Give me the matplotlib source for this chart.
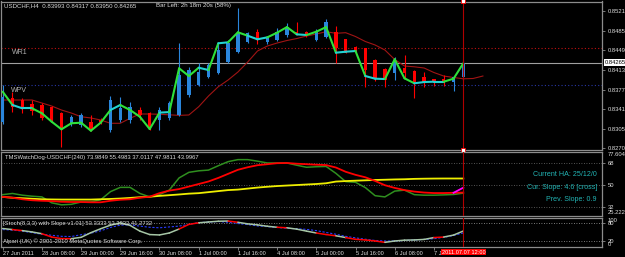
import matplotlib
matplotlib.use("Agg")
import matplotlib.pyplot as plt
import numpy as np
from matplotlib import font_manager
from matplotlib.transforms import blended_transform_factory

W, H = 625, 257

# ---- USDCHF H4 price pane ----
opens = [0.83178, 0.83618, 0.83581, 0.83508, 0.83490, 0.83458, 0.83349, 0.83142, 0.83124, 0.83184,
         0.83215, 0.83032, 0.83215, 0.83215, 0.83398, 0.83343, 0.83215, 0.83252, 0.83307, 0.83673,
         0.83856, 0.84007, 0.84075, 0.84282, 0.84465, 0.84648, 0.84831, 0.84648, 0.84679, 0.84771,
         0.84831, 0.84831, 0.84679, 0.84739, 0.84831, 0.84692, 0.84556, 0.84527, 0.84320, 0.84155,
         0.84070, 0.84167, 0.84117, 0.84007, 0.83960, 0.83965, 0.83910, 0.83993]
highs = [0.83856, 0.83733, 0.83612, 0.83581, 0.83526, 0.83471, 0.83367, 0.83307, 0.83343, 0.83307,
         0.83252, 0.83654, 0.83641, 0.83550, 0.83458, 0.83367, 0.83453, 0.83563, 0.84624, 0.84190,
         0.84258, 0.84258, 0.84630, 0.84679, 0.85259, 0.84831, 0.84875, 0.84752, 0.84899, 0.84985,
         0.85014, 0.84853, 0.84880, 0.85058, 0.84935, 0.84700, 0.84569, 0.84535, 0.84326, 0.84161,
         0.84362, 0.84405, 0.84125, 0.84099, 0.83965, 0.84033, 0.84020, 0.84317]
lows = [0.83142, 0.83367, 0.83343, 0.83307, 0.83215, 0.83184, 0.82715, 0.83105, 0.83087, 0.83019,
        0.83142, 0.82995, 0.83184, 0.83155, 0.83215, 0.83032, 0.83032, 0.83215, 0.83288, 0.83641,
        0.83837, 0.83984, 0.84057, 0.84258, 0.84436, 0.84619, 0.84606, 0.84606, 0.84666, 0.84739,
        0.84771, 0.84739, 0.84666, 0.84710, 0.84264, 0.84441, 0.84459, 0.83824, 0.83934, 0.83813,
        0.83947, 0.83984, 0.83612, 0.83813, 0.83837, 0.83837, 0.83751, 0.83950]
closes = [0.83636, 0.83453, 0.83435, 0.83380, 0.83252, 0.83215, 0.83063, 0.83270, 0.83307, 0.83045,
          0.83178, 0.83581, 0.83435, 0.83458, 0.83307, 0.83069, 0.83398, 0.83526, 0.84039, 0.84130,
          0.84099, 0.84222, 0.84496, 0.84624, 0.84807, 0.84807, 0.84692, 0.84739, 0.84831, 0.84922,
          0.84789, 0.84771, 0.84831, 0.85014, 0.84527, 0.84447, 0.84465, 0.84130, 0.83960, 0.83947,
          0.84313, 0.84075, 0.83916, 0.83887, 0.83910, 0.83910, 0.84002, 0.84265]
trend_line = [0.83733, 0.83490, 0.83429, 0.83429, 0.83338, 0.83184, 0.83045, 0.83155, 0.83166, 0.83019,
              0.83166, 0.83398, 0.83490, 0.83398, 0.83275, 0.83050, 0.83350, 0.83360, 0.84161, 0.84020,
              0.84172, 0.84130, 0.84619, 0.84637, 0.84820, 0.84758, 0.84692, 0.84728, 0.84813, 0.84915,
              0.84783, 0.84771, 0.84831, 0.84915, 0.84447, 0.84465, 0.84478, 0.84020, 0.83971, 0.83965,
              0.84326, 0.83978, 0.83887, 0.83910, 0.83916, 0.83916, 0.83971, 0.84253]
trend_cyan = [1, 2, 11, 16, 20, 22, 25, 26, 30, 34, 35, 37, 38, 42, 43, 44]
ma_line = [0.83581, 0.83581, 0.83581, 0.83581, 0.83526, 0.83471, 0.83398, 0.83343, 0.83275, 0.83252,
           0.83215, 0.83155, 0.83155, 0.83246, 0.83325, 0.83325, 0.83320, 0.83310, 0.83300, 0.83307,
           0.83458, 0.83654, 0.83824, 0.83947, 0.84093, 0.84276, 0.84478, 0.84569, 0.84624, 0.84670,
           0.84706, 0.84752, 0.84789, 0.84831, 0.84802, 0.84813, 0.84743, 0.84652, 0.84588, 0.84496,
           0.84322, 0.84203, 0.84189, 0.84167, 0.84084, 0.84020, 0.83993, 0.83969, 0.83975, 0.84020]
wr1_level = 0.84527
wpv_level = 0.83850
bid = 0.84265
price_ticks = [0.85210, 0.84850, 0.84490, 0.84130, 0.83770, 0.83410, 0.83050, 0.82700]

# ---- TMSWatchDog pane ----
wd_green = [42.27, 43.26, 41.85, 41.02, 40.44, 35.61, 33.95, 34.37, 36.28, 36.28,
            38.11, 44.76, 48.25, 48.25, 43.26, 40.44, 42.27, 46.01, 55.98, 60.56,
            61.80, 62.39, 65.96, 69.29, 70.95, 70.95, 69.70, 68.21, 68.21, 68.21,
            66.38, 64.71, 65.13, 65.38, 59.72, 52.91, 52.41, 48.09, 41.43, 40.44,
            45.18, 46.01, 42.27, 41.85, 41.85, 42.10, 42.43, 43.50]
wd_red = [40.44, 39.77, 38.52, 37.69, 37.28, 37.03, 36.45, 36.28, 36.28, 36.03,
          36.03, 37.28, 38.11, 38.52, 39.77, 40.60, 43.51, 45.59, 46.84, 48.92,
          51.00, 53.07, 55.98, 59.31, 62.63, 64.71, 66.38, 67.21, 68.04, 68.21,
          67.62, 67.21, 66.79, 66.50, 64.50, 61.00, 58.50, 56.50, 53.50, 50.00,
          47.80, 46.00, 44.80, 44.00, 43.60, 43.60, 43.80, 43.9967]
wd_yellow = [40.44, 39.77, 39.36, 38.94, 38.52, 38.36, 38.27, 38.27, 38.27, 38.27,
             38.52, 38.77, 39.11, 39.61, 40.19, 40.60, 41.27, 41.85, 42.43, 43.10,
             43.51, 44.34, 45.18, 46.01, 46.42, 47.25, 48.09, 48.75, 49.33, 49.75,
             50.16, 50.58, 51.00, 51.60, 53.00, 53.40, 53.70, 54.00, 54.30, 54.50,
             54.74, 54.90, 55.20, 55.35, 55.45, 55.50, 55.50, 55.4983]
wd_magenta = [43.80, 47.9811]   # last two bars
wd_levels = [68, 50, 32]
wd_range = (25.2227, 77.6046)

# ---- Stochastic pane ----
st_main = [62.0, 58.4, 54.8, 50.2, 44.1, 32.6, 27.2, 26.9, 31.5, 47.7,
           61.3, 73.5, 81.4, 72.8, 53.0, 41.2, 39.8, 46.6, 60.2, 76.3,
           81.7, 84.6, 87.1, 87.8, 83.5, 78.1, 74.6, 69.9, 66.3, 64.5,
           59.9, 53.0, 46.6, 41.2, 36.9, 30.8, 24.7, 22.6, 19.0, 14.3,
           19.0, 21.9, 22.6, 24.4, 30.8, 32.6, 39.4, 53.3333]
st_signal = [58.4, 56.6, 53.0, 47.7, 42.3, 38.7, 35.1, 34.4, 40.5, 45.9,
             54.1, 65.6, 73.8, 74.6, 70.3, 66.3, 64.5, 67.4, 70.3, 76.3,
             82.4, 84.2, 86.0, 83.5, 79.2, 75.6, 71.0, 68.5, 65.6, 62.7,
             61.3, 59.1, 54.8, 48.4, 42.3, 35.1, 29.8, 25.1, 20.8, 19.0,
             19.0, 20.8, 22.6, 24.4, 26.9, 31.5, 38.0, 46.6]
st_red = [1, 4, 5, 6, 18, 19, 23, 28, 32, 33, 35, 36, 37, 38, 44]
st_levels = [80, 20]

time_labels = ["27 Jun 2011", "28 Jun 08:00", "29 Jun 00:00", "29 Jun 16:00", "30 Jun 08:00",
               "1 Jul 00:00", "1 Jul 16:00", "4 Jul 08:00", "5 Jul 00:00", "5 Jul 16:00",
               "6 Jul 08:00", "7 Jul 00:00"]
cursor_label = "2011.07.07 12:00"

# ---- style ----
names = {f.name for f in font_manager.fontManager.ttflist}
if "Liberation Sans Narrow" in names:
    FONT, K = "Liberation Sans Narrow", 1.0
else:
    FONT, K = "Liberation Sans", 0.82
plt.rcParams["font.family"] = [FONT, "DejaVu Sans"]
FS = 5.2 * K
FRAME = "#8c8c8c"
TXT = "#dcdcdc"
BLUE = "#2a86dc"
RED = "#ff0000"
GREEN = "#2ee03a"
CYAN = "#22d2d2"
TEAL = "#22b4b4"
X_LEFT, X_RIGHT = -0.17, 61.15

fig = plt.figure(figsize=(W / 100, H / 100), dpi=100, facecolor="black")


def pane(y0, y1):
    ax = fig.add_axes([1 / W, 1 - y1 / H, 601 / W, (y1 - y0) / H], facecolor="black")
    for s in ax.spines.values():
        s.set_color(FRAME)
        s.set_linewidth(0.9)
    ax.set_xlim(X_LEFT, X_RIGHT)
    ax.yaxis.tick_right()
    ax.tick_params(axis="y", colors=FRAME, labelcolor=TXT, length=2.5, width=0.6,
                   labelsize=FS, pad=1.5)
    ax.tick_params(axis="x", bottom=False, labelbottom=False)
    return ax


def px_text(x, y, s, **kw):
    kw.setdefault("fontsize", FS)
    kw.setdefault("color", TXT)
    kw.setdefault("va", "center")
    fig.text(x / W, 1 - y / H, s, **kw)


bars = np.arange(len(closes))
o = np.array(opens)
c = np.array(closes)

# main pane
ax = pane(1.5, 150)
ax.set_ylim(0.82666, 0.85384)
ax.set_yticks(price_ticks)
ax.set_yticklabels([f"{p:.5f}" for p in price_ticks])
ax.axhline(wr1_level, color="#c01010", lw=0.8, ls=(0, (1, 2)), zorder=1)
ax.axhline(wpv_level, color="#2838a8", lw=0.8, ls=(0, (1, 2)), zorder=1)
ax.axhline(bid, color="#a0a0a0", lw=0.8, zorder=1)
ax.plot(np.arange(len(ma_line)), ma_line, color="#a01414", lw=0.8, zorder=2)
cols = [BLUE if cc >= oo else RED for oo, cc in zip(o, c)]
ax.vlines(bars, lows, highs, colors=cols, lw=0.8, zorder=3)
ax.bar(bars, np.maximum(np.abs(c - o), 0.00012), bottom=np.minimum(o, c),
       width=0.36, color=cols, lw=0, zorder=3)
for k in range(len(trend_line) - 1):
    ax.plot([k, k + 1], trend_line[k:k + 2], color=CYAN if k in trend_cyan else GREEN,
            lw=1.5, solid_capstyle="round", zorder=4)
ax.axvline(bars[-1], color="#b00000", lw=0.8, zorder=5)
ax.plot([bars[-1]] * 2, ax.get_ylim(), "s", ms=2.6, mfc="white", mec=RED, mew=0.6,
        clip_on=False, zorder=6)
trans = blended_transform_factory(ax.transAxes, ax.transData)
ax.text(1.0045, bid, f"{bid:.5f}", transform=trans, ha="left", va="center", fontsize=FS,
        color="black", bbox=dict(boxstyle="square,pad=0.12", fc="white", ec="none"), clip_on=False)
px_text(4, 6, "USDCHF,H4  0.83993 0.84317 0.83950 0.84265", fontsize=5.4 * K)
px_text(156, 6, "Bar Left: 2h 18m 20s (58%)", fontsize=5.4 * K)
px_text(12, 53, "WR1", fontsize=6.2 * K, color="#b4b4b4")
px_text(11, 90, "WPV", fontsize=6.2 * K, color="#b4b4b4")

# TMSWatchDog pane
ax1 = pane(151.5, 215.5)
ax1.set_ylim(*wd_range)
ax1.set_yticks(wd_levels)
ax1.set_yticklabels([str(v) for v in wd_levels])
for lv in wd_levels:
    ax1.axhline(lv, color="#6e6e6e", lw=0.6, ls=(0, (1, 2)), zorder=1)
ax1.plot(bars, wd_green, color="#2f8f1f", lw=1.1, zorder=2)
ax1.plot(bars, wd_yellow, color="#eeee00", lw=1.3, zorder=3)
ax1.plot(bars, wd_red, color=RED, lw=1.3, zorder=4)
ax1.plot(bars[-2:], wd_magenta, color="#ff00ff", lw=1.3, zorder=5)
ax1.axvline(bars[-1], color="#b00000", lw=0.8, zorder=6)
px_text(607.5, 152.5, f"{wd_range[1]:.4f}", va="top")
px_text(607.5, 215, f"{wd_range[0]:.4f}", va="bottom")
px_text(5, 158, "TMSWatchDog-USDCHF(240) 73.9849 55.4983 37.0117 47.9811 43.9967")
px_text(597, 175, "Current HA: 25/12/0", ha="right", fontsize=6.3 * K, color=TEAL)
px_text(597, 187.7, "Cur. Slope: 4.6 [cross]", ha="right", fontsize=6.3 * K, color=TEAL)
px_text(597, 199.3, "Prev. Slope: 0.9", ha="right", fontsize=6.3 * K, color=TEAL)

# Stochastic pane
ax2 = pane(217.5, 246.5)
ax2.set_ylim(0, 100)
ax2.set_yticks(st_levels)
ax2.set_yticklabels([str(v) for v in st_levels])
for lv in st_levels:
    ax2.axhline(lv, color="#a0a0a0", lw=0.6, ls=(0, (1, 2)), zorder=1)
ax2.plot(bars, st_signal, color="#2a3cff", lw=0.8, ls=(0, (2, 1.5)), zorder=2)
for k in range(len(st_main) - 1):
    ax2.plot([k, k + 1], st_main[k:k + 2], color=RED if k in st_red else "#a6c6a6",
             lw=1.1, solid_capstyle="round", zorder=3)
ax2.axvline(bars[-1], color="#b00000", lw=0.8, zorder=4)
px_text(607.5, 218, "100", va="top")
px_text(607.5, 246.5, "0", va="bottom")
px_text(3, 224, "[Stoch(8,3,3) with Slope v1.01] 53.3333 53.3333 41.2732")
px_text(3, 241.5, "Alpari (UK) \u00a9 2001-2010 MetaQuotes Software Corp.")

ax2.set_xticks(bars[::4])
ax2.set_xticklabels(time_labels, ha="left")
ax2.tick_params(axis="x", bottom=True, labelbottom=True, length=2.5, width=0.6, pad=1,
                colors=FRAME, labelcolor=TXT, labelsize=5.0 * K)
ax2.text(bars[-1], -0.19, cursor_label, transform=blended_transform_factory(ax2.transData, ax2.transAxes),
         ha="center", va="center", fontsize=5.0 * K, color="white", zorder=10, clip_on=False,
         bbox=dict(boxstyle="square,pad=0.15", fc="#ff0000", ec="none"))

fig.savefig("out.png", dpi=100, facecolor="black")
